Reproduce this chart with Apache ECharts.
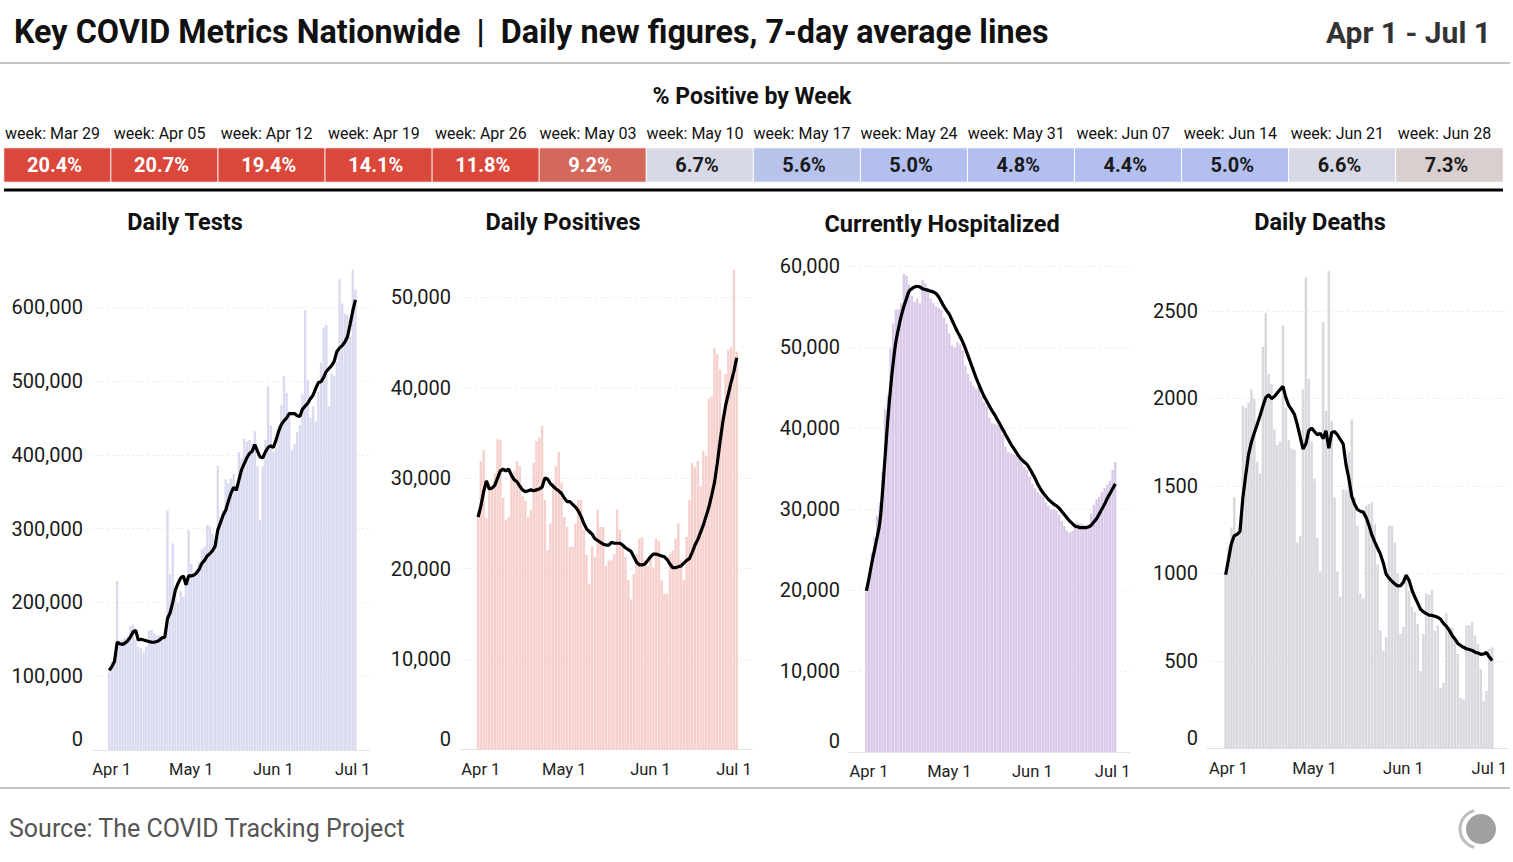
<!DOCTYPE html>
<html><head><meta charset="utf-8">
<script src="https://cdn.jsdelivr.net/npm/echarts@6/dist/echarts.min.js"></script>
<style>html,body{margin:0;padding:0;background:#fff}#c{width:1513px;height:862px}</style>
</head><body><div id="c"></div>
<script>
// ---------- DATA ----------
const weekLabels = ['week: Mar 29','week: Apr 05','week: Apr 12','week: Apr 19','week: Apr 26','week: May 03','week: May 10',
  'week: May 17','week: May 24','week: May 31','week: Jun 07','week: Jun 14','week: Jun 21','week: Jun 28'];
const weekPct = [20.4,20.7,19.4,14.1,11.8,9.2,6.7,5.6,5.0,4.8,4.4,5.0,6.6,7.3];

// daily data run from Mar 31 to Jul 2
const firstDataDay = 'Mar 31';

const testsDaily = [
  105000,120000,125000,229000,148000,150000,152000,155000,168000,170000,
  150000,140000,138000,133000,140000,162000,163000,158000,155000,156000,
  150000,155000,325000,238000,280000,210000,200000,215000,208000,225000,
  298000,252000,240000,245000,255000,272000,275000,305000,303000,293000,
  285000,385000,316000,325000,367000,362000,368000,374000,350000,404000,
  395000,422000,418000,420000,415000,432000,385000,312000,385000,420000,
  493000,440000,404000,410000,440000,468000,507000,484000,459000,406000,
  415000,431000,440000,482000,596000,502000,450000,466000,445000,486000,
  525000,573000,576000,466000,510000,507000,527000,638000,605000,592000,
  590000,560000,651000,624000];
const testsAvg = [
  108000,113000,120000,146000,144000,143000,145000,148000,153000,160000,
  162000,149000,150000,149000,148000,147000,146000,146000,147000,149000,
  152000,153000,178000,186000,200000,217000,226000,233000,236000,224000,
  236000,236000,237000,240000,245000,253000,257000,263000,266000,270000,
  276000,298000,308000,318000,325000,337000,348000,356000,352000,366000,
  380000,388000,396000,402000,405000,414000,405000,397000,396000,404000,
  410000,412000,410000,420000,432000,441000,446000,450000,456000,456000,
  456000,453000,452000,462000,466000,470000,476000,481000,490000,498000,
  499000,505000,513000,517000,521000,527000,540000,545000,548000,553000,
  560000,577000,595000,610000];

const positivesDaily = [
  26000,31900,33100,25600,29500,29000,30500,34300,34200,27800,
  25400,25700,30600,30800,31900,31300,28000,27500,25700,26500,
  31700,34100,34500,35800,27600,22000,25000,29500,31300,32900,
  29500,25700,24600,22400,22400,25000,27600,27600,24300,21500,
  18300,22400,21300,26500,24600,24600,20300,20900,20900,21600,
  26500,24300,22400,21300,18700,16600,19400,21600,23300,23500,
  20900,20300,21300,20100,23300,23100,18700,17200,17200,21600,
  22000,23300,25000,20900,18700,23500,27600,31700,31200,31900,
  29100,33000,32500,38800,39000,44400,43700,42000,36800,41500,
  44200,44500,53000,44000];
const positivesAvg = [
  25700,26900,28500,29700,28800,28900,29200,30000,30800,31000,
  30800,31000,30300,29800,29600,29100,28700,28500,28600,28700,
  28600,28700,28800,29000,30000,29900,29400,29100,28800,28600,
  28300,27800,27400,27400,27100,26800,26400,25800,25000,24400,
  24100,23800,23300,23100,22900,22700,22600,22600,22900,22800,
  22800,22800,22600,22300,22100,21900,21300,20700,20400,20400,
  20500,20900,21300,21600,21600,21500,21400,21300,21000,20500,
  20100,20100,20200,20300,20600,20900,21100,21800,22600,23200,
  24000,24800,25800,26800,28100,29500,31600,34000,36200,38000,
  39300,40600,41800,43300];

const hospDaily = [
  19800,21900,24600,26500,29200,30800,34600,42300,44000,49800,
  52900,54600,54700,55400,59000,58800,57700,56300,55600,56000,
  55400,58300,57900,57300,56000,55400,55000,54800,54600,53600,
  52900,51700,50200,50000,50600,50300,49600,47700,46700,45800,
  45200,44800,45400,43900,43200,42700,41300,40600,40500,40400,
  40200,39200,37700,37000,36900,36700,36600,36500,35900,35200,
  34800,34000,33100,32600,32100,31800,31500,30800,30400,29900,
  30000,29800,29300,28500,27900,27300,27100,27300,28100,28300,
  28200,28100,28000,27700,29400,30500,31200,31500,32100,32600,
  33000,33500,34800,35800];
const hospAvg = [
  19900,21500,23300,24900,26500,28300,32000,36500,41000,44800,
  48000,50600,52300,53800,55000,56000,56900,57200,57400,57500,
  57400,57200,57100,57000,56900,56800,56600,56200,55600,55000,
  54500,54000,53300,52600,51900,51300,50600,49800,48900,48000,
  47100,46200,45400,44600,43900,43300,42700,42100,41600,41000,
  40400,39800,39200,38600,38000,37500,37000,36500,36100,35800,
  35500,35000,34400,33800,33100,32500,32000,31600,31200,30900,
  30600,30400,30100,29700,29300,28900,28500,28200,27900,27800,
  27700,27700,27700,27800,28000,28400,28800,29400,30000,30600,
  31300,31900,32500,33100];

const deathsDaily = [
  992,1150,1262,1435,1223,1230,1956,1946,1975,2052,
  1996,1638,1570,2293,2486,2139,2081,1821,1734,1753,
  2418,1946,1763,1715,1705,1175,1214,2052,2688,2110,
  1753,1541,1204,1012,2437,1927,2726,1869,1435,1012,
  867,1480,1474,1695,1879,1435,1272,886,857,1387,
  1397,1407,1281,1050,674,559,636,1272,1272,1175,
  1002,655,694,983,900,809,780,713,443,655,
  886,877,906,674,703,347,376,771,694,690,
  636,540,289,279,703,703,723,646,597,453,
  270,328,569,578];
const deathsAvg = [
  992,1080,1170,1215,1223,1240,1430,1560,1680,1750,
  1802,1850,1900,1955,2004,2020,1998,2010,2030,2050,
  2068,2004,1960,1935,1908,1850,1780,1710,1740,1815,
  1830,1810,1792,1800,1770,1815,1715,1805,1810,1792,
  1765,1740,1620,1541,1440,1395,1365,1355,1350,1320,
  1275,1220,1180,1145,1110,1060,995,973,955,940,
  928,930,950,990,960,905,865,830,795,780,
  770,762,760,755,750,738,715,698,675,646,
  625,600,588,578,570,565,560,550,545,538,
  540,548,522,502];

// ---------- CATEGORIES (day axis, with a few empty days of padding either side) ----------
const monthNames = ['Jan','Feb','Mar','Apr','May','Jun','Jul','Aug','Sep','Oct','Nov','Dec'];
const categories = [];
for (let t = Date.UTC(2020,2,25); t <= Date.UTC(2020,6,7); t += 86400000) {
  const d = new Date(t);
  categories.push(monthNames[d.getUTCMonth()] + ' ' + d.getUTCDate());
}
const LEAD = categories.indexOf(firstDataDay);
function pad(arr) {
  const out = new Array(categories.length).fill(null);
  arr.forEach((v, i) => { out[LEAD + i] = v; });
  return out;
}

// ---------- LAYOUT / STYLE ----------
const FONT = 'Roboto, "Noto Sans", sans-serif';
const panels = [
  {name:'Daily Tests', daily:testsDaily, avg:testsAvg, color:'#d9daef', max:660000, interval:100000, comma:true, smooth:false,
   left:92, width:278, top:263, height:487, tx:185, ty:222},
  {name:'Daily Positives', daily:positivesDaily, avg:positivesAvg, color:'#f6d0cc', max:54000, interval:10000, comma:true, smooth:false,
   left:460, width:292, top:261, height:488.5, tx:563, ty:222},
  {name:'Currently Hospitalized', daily:hospDaily, avg:hospAvg, color:'#d9c8e8', max:60000, interval:10000, comma:true, smooth:true,
   left:849, width:281, top:266, height:486, tx:942, ty:224},
  {name:'Daily Deaths', daily:deathsDaily, avg:deathsAvg, color:'#d8d9df', max:2750, interval:500, comma:false, smooth:false,
   left:1207, width:301, top:267, height:481.5, tx:1320, ty:222}
];

const grids = [], xAxes = [], yAxes = [], series = [];
panels.forEach((p, k) => {
  const exactMax = p.max % p.interval === 0;
  grids.push({left:p.left, top:p.top, width:p.width, height:p.height});
  xAxes.push({
    type:'category', gridIndex:k, data:categories, boundaryGap:true,
    axisLine:{show:true, lineStyle:{color:'#e2e2e2', width:1}},
    axisTick:{show:false}, splitLine:{show:false},
    axisLabel:{interval:(i, v) => / 1$/.test(v), color:'#222', fontSize:16.5, fontFamily:FONT, margin:11}
  });
  yAxes.push({
    type:'value', gridIndex:k, min:0, max:p.max, interval:p.interval,
    axisLine:{show:false}, axisTick:{show:false},
    splitLine:{show:true, showMaxLine:exactMax, lineStyle:{color:'#ebebeb', width:1, type:[2,3]}},
    axisLabel:{
      showMaxLabel:exactMax, margin:9, fontSize:20, color:'#1a1a1a', fontFamily:FONT,
      formatter: v => v === 0 ? '{z|0}' : (p.comma ? v.toLocaleString('en-US') : String(v)),
      rich:{z:{padding:[0,0,22,0], fontSize:20, color:'#1a1a1a', fontFamily:FONT}}
    }
  });
  series.push({
    type:'bar', xAxisIndex:k, yAxisIndex:k, data:pad(p.daily), silent:true,
    barCategoryGap:'12%', itemStyle:{color:p.color}, z:2
  });
  series.push({
    type:'line', xAxisIndex:k, yAxisIndex:k, data:pad(p.avg), silent:true,
    symbol:'none', smooth:p.smooth, lineStyle:{color:'#000', width:3.2}, z:3
  });
});

// weekly % positive strip
grids.push({left:4, top:148, width:1499, height:34});
xAxes.push({type:'category', gridIndex:4, data:weekLabels, position:'top',
  axisLine:{show:false}, axisTick:{show:false}, splitLine:{show:false},
  axisLabel:{interval:0, fontSize:16, color:'#111', margin:7, fontFamily:FONT, padding:[0,10,0,0]}});
yAxes.push({type:'category', gridIndex:4, data:['% Positive'], show:false});
const heatIndex = series.length;
series.push({
  type:'heatmap', xAxisIndex:4, yAxisIndex:4, silent:true,
  data: weekPct.map((v, i) => ({value:[i, 0, v], label:{color: v >= 8 ? '#ffffff' : '#1a1a1a'}})),
  label:{show:true, formatter: q => q.value[2].toFixed(1) + '%', fontSize:20, fontWeight:'bold', fontFamily:FONT, offset:[-3,0]},
  itemStyle:{borderColor:'#ffffff', borderWidth:1}
});

function txt(x, y, text, size, weight, color, align) {
  return {type:'text', x, y, silent:true, style:{
    text, font: weight + ' ' + size + 'px ' + FONT, fill:color,
    align, verticalAlign:'middle', textAlign:align, textVerticalAlign:'middle'}};
}
function hline(x1, x2, y, color, w) {
  return {type:'line', silent:true, shape:{x1, y1:y, x2, y2:y}, style:{stroke:color, lineWidth:w}};
}
const graphics = [
  txt(14, 32, 'Key COVID Metrics Nationwide  |  Daily new figures, 7-day average lines', 32.3, 'bold', '#111', 'left'),
  txt(1491, 32, 'Apr 1 - Jul 1', 30, 'bold', '#333', 'right'),
  hline(0, 1510, 63, '#c4c4c4', 2),
  txt(752, 96, '% Positive by Week', 23, 'bold', '#111', 'center'),
  hline(4, 1503, 190, '#000', 3),
  hline(0, 1510, 788, '#c4c4c4', 2),
  txt(9, 828, 'Source: The COVID Tracking Project', 25, 'normal', '#555', 'left'),
  {type:'circle', silent:true, shape:{cx:1481, cy:829, r:15}, style:{fill:'#a0a0a0'}},
  {type:'arc', silent:true, shape:{cx:1479, cy:829, r:19, startAngle:Math.PI*0.58, endAngle:Math.PI*1.42, clockwise:true},
   style:{stroke:'#bdbdbd', lineWidth:3, fill:'none'}}
];
panels.forEach(p => graphics.push(txt(p.tx, p.ty, p.name, 23.5, 'bold', '#111', 'center')));

const chart = echarts.init(document.getElementById('c'), null, {renderer:'svg', width:1513, height:862});
chart.setOption({
  animation:false,
  backgroundColor:'#fff',
  textStyle:{fontFamily:FONT},
  grid:grids, xAxis:xAxes, yAxis:yAxes, series,
  visualMap:{type:'piecewise', show:false, seriesIndex:heatIndex, dimension:2,
    pieces:[
      {gte:10, color:'#d9483b'},
      {gte:8, lt:10, color:'#d4685d'},
      {gte:7, lt:8, color:'#d9cfcf'},
      {gte:6, lt:7, color:'#d7d9e6'},
      {gte:5.5, lt:6, color:'#b8c3ec'},
      {lt:5.5, color:'#b2bfef'}
    ]},
  graphic:graphics
});
</script>
</body></html>
